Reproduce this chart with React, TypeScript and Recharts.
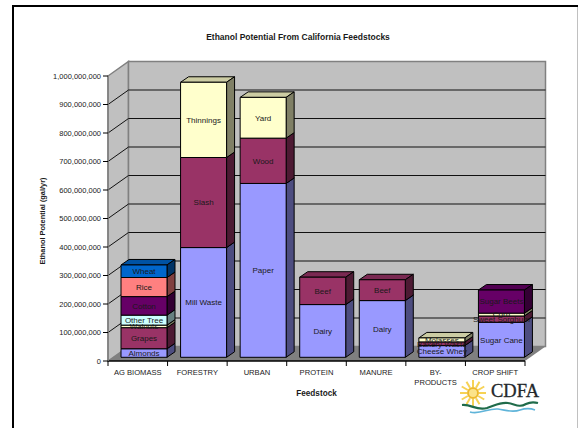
import React from 'react';
import { BarChart, Bar, XAxis, YAxis, CartesianGrid, LabelList } from 'recharts';

const categories = ['AG BIOMASS', 'FORESTRY', 'URBAN', 'PROTEIN', 'MANURE', 'BY-PRODUCTS', 'CROP SHIFT'];
const yTicks = [0, 100000000, 200000000, 300000000, 400000000, 500000000, 600000000, 700000000, 800000000, 900000000, 1000000000];

const almonds = [30000000, null, null, null, null, null, null];
const grapes = [74000000, null, null, null, null, null, null];
const walnuts = [9000000, null, null, null, null, null, null];
const otherTree = [35000000, null, null, null, null, null, null];
const cotton = [65000000, null, null, null, null, null, null];
const rice = [67000000, null, null, null, null, null, null];
const wheat = [44000000, null, null, null, null, null, null];
const millWaste = [null, 385000000, null, null, null, null, null];
const slash = [null, 316000000, null, null, null, null, null];
const thinnings = [null, 264000000, null, null, null, null, null];
const paper = [null, null, 610000000, null, null, null, null];
const wood = [null, null, 159000000, null, null, null, null];
const yard = [null, null, 143000000, null, null, null, null];
const dairy = [null, null, null, 185000000, 199000000, null, null];
const beef = [null, null, null, 96000000, 73000000, null, null];
const cheeseWhey = [null, null, null, null, null, 41000000, null];
const bakeryWaste = [null, null, null, null, null, 13000000, null];
const molasses = [null, null, null, null, null, 14000000, null];
const sugarCane = [null, null, null, null, null, null, 123000000];
const sweetSorghum = [null, null, null, null, null, null, 22000000];
const corn = [null, null, null, null, null, null, 10000000];
const sugarBeets = [null, null, null, null, null, null, 81000000];

const series = [
  { name: 'Almonds', values: almonds, color: '#9999FF' },
  { name: 'Grapes', values: grapes, color: '#993366' },
  { name: 'Walnuts', values: walnuts, color: '#FFFFCC' },
  { name: 'Other Tree', values: otherTree, color: '#CCFFFF' },
  { name: 'Cotton', values: cotton, color: '#660066' },
  { name: 'Rice', values: rice, color: '#FF8080' },
  { name: 'Wheat', values: wheat, color: '#0066CC' },
  { name: 'Mill Waste', values: millWaste, color: '#9999FF' },
  { name: 'Slash', values: slash, color: '#993366' },
  { name: 'Thinnings', values: thinnings, color: '#FFFFCC' },
  { name: 'Paper', values: paper, color: '#9999FF' },
  { name: 'Wood', values: wood, color: '#993366' },
  { name: 'Yard', values: yard, color: '#FFFFCC' },
  { name: 'Dairy', values: dairy, color: '#9999FF' },
  { name: 'Beef', values: beef, color: '#993366' },
  { name: 'Cheese Whey', values: cheeseWhey, color: '#9999FF' },
  { name: 'Bakery Waste', values: bakeryWaste, color: '#993366' },
  { name: 'Molasses', values: molasses, color: '#FFFFCC' },
  { name: 'Sugar Cane', values: sugarCane, color: '#9999FF' },
  { name: 'Sweet Sorghum', values: sweetSorghum, color: '#993366' },
  { name: 'Corn', values: corn, color: '#FFFFCC' },
  { name: 'Sugar Beets', values: sugarBeets, color: '#660066' },
];

const data = categories.map((category, i) => {
  const row: Record<string, any> = { category };
  series.forEach((s) => {
    row[s.name] = s.values[i];
  });
  return row;
});

const FONT = '"Liberation Sans", Arial, sans-serif';
const TEXT = '#1a1a1a';

// fake 3D: wall depth and the depth/offset of the bars on the floor
const WALL_DX = 20.5;
const WALL_DY = 14.5;
const BAR_DX = 8;
const BAR_DY = 5.5;
const BAR_OFF_X = 6;
const BAR_OFF_Y = 3.7;

function shade(hex: string, k: number) {
  const n = parseInt(hex.slice(1), 16);
  const c = (v: number) => Math.round(v * k);
  return `rgb(${c((n >> 16) & 255)},${c((n >> 8) & 255)},${c(n & 255)})`;
}

// walls + floor are drawn with the first grid line, so they sit under the rest
const gridLine = (props: any) => {
  const { x1, x2, y1, index, y, height } = props;
  const top = y;
  const bottom = y + height;
  const edge = y1 <= top + 0.5 || y1 >= bottom - 0.5;
  return (
    <g key={`grid-${index}`}>
      {index === 0 && (
        <g>
          <polygon
            points={`${x1},${top} ${x1 + WALL_DX},${top - WALL_DY} ${x1 + WALL_DX},${bottom - WALL_DY} ${x1},${bottom}`}
            fill="#C0C0C0"
            stroke="#808080"
            strokeWidth={1.5}
          />
          <rect
            x={x1 + WALL_DX}
            y={top - WALL_DY}
            width={x2 - x1}
            height={height}
            fill="#C0C0C0"
            stroke="#808080"
            strokeWidth={1.5}
          />
          <polygon
            points={`${x1},${bottom} ${x2},${bottom} ${x2 + WALL_DX},${bottom - WALL_DY} ${x1 + WALL_DX},${bottom - WALL_DY}`}
            fill="#808080"
          />
        </g>
      )}
      {!edge && (
        <polyline
          points={`${x1},${y1} ${x1 + WALL_DX},${y1 - WALL_DY} ${x2 + WALL_DX},${y1 - WALL_DY}`}
          fill="none"
          stroke="#111"
          strokeWidth={1}
        />
      )}
    </g>
  );
};

const Bar3D = (props: any) => {
  const { x, y, width, height, fill } = props;
  if (!height) return null;
  const l = x + BAR_OFF_X;
  const t = y - BAR_OFF_Y;
  const r = l + width;
  const b = t + height;
  return (
    <g stroke="#000" strokeWidth={1} strokeLinejoin="round">
      <polygon
        points={`${l},${t} ${l + BAR_DX},${t - BAR_DY} ${r + BAR_DX},${t - BAR_DY} ${r},${t}`}
        fill={shade(fill, 0.8)}
      />
      <polygon
        points={`${r},${t} ${r + BAR_DX},${t - BAR_DY} ${r + BAR_DX},${b - BAR_DY} ${r},${b}`}
        fill={shade(fill, 0.5)}
      />
      <rect x={l} y={t} width={width} height={height} fill={fill} />
    </g>
  );
};

const segmentLabel = (name: string) => (props: any) => {
  const { x, y, width, height, value } = props;
  if (value == null || !height) return null;
  return (
    <text
      x={x + BAR_OFF_X + width / 2}
      y={y - BAR_OFF_Y + height / 2 + 2.8}
      textAnchor="middle"
      fontFamily={FONT}
      fontSize={8}
      fill={TEXT}
    >
      {name}
    </text>
  );
};

// category ticks sit on the band edges, as in the original
const CategoryTick = (props: any) => {
  const { x, y, payload, index } = props;
  const band = 417 / categories.length;
  const left = x - band / 2;
  const words = String(payload.value) === 'BY-PRODUCTS' ? ['BY-', 'PRODUCTS'] : [String(payload.value)];
  return (
    <g>
      <line x1={left} x2={left} y1={361} y2={366} stroke="#000" strokeWidth={1} />
      {index === categories.length - 1 && (
        <line x1={left + band} x2={left + band} y1={361} y2={366} stroke="#000" strokeWidth={1} />
      )}
      {words.map((w, i) => (
        <text key={w} x={x} y={y + 6 + i * 10} textAnchor="middle" fontFamily={FONT} fontSize={7.6} fill={TEXT}>
          {w}
        </text>
      ))}
    </g>
  );
};

const sunRays = [0, 30, 60, 90, 120, 150, 180, 210, 240, 270, 300, 330];

const Logo = () => (
  <g>
    {sunRays.map((a) => {
      const rad = (a * Math.PI) / 180;
      return (
        <line
          key={a}
          x1={473 + Math.cos(rad) * 6}
          y1={393 + Math.sin(rad) * 6}
          x2={473 + Math.cos(rad) * 13}
          y2={393 + Math.sin(rad) * 13}
          stroke="#F6D255"
          strokeWidth={2}
        />
      );
    })}
    <circle cx={473} cy={393} r={5} fill="#FBE38A" stroke="#EDB92E" strokeWidth={2} />
    <text x={491} y={397} fontFamily='"Liberation Serif", serif' fontSize={18} textLength={48} lengthAdjust="spacingAndGlyphs" fill="#23282b" stroke="#23282b" strokeWidth={0.3}>
      CDFA
    </text>
    <path d="M462 405 C472 404 476 411 487 408 C496 405 500 402 508 403 C515 404 519 408 526 404 C530 402 534 402 538 403" fill="none" stroke="#1F6B4A" strokeWidth={2.2} />
    <path d="M470 412 C480 415 488 408 498 409 C506 410 512 413 520 410 C526 408 530 408 535 410" fill="none" stroke="#5FB4D9" strokeWidth={1.6} />
  </g>
);

export default function App() {
  return (
    <div style={{ position: 'absolute', left: 0, top: 0, width: 578, height: 428, background: '#fff', overflow: 'hidden' }}>
      <BarChart
        width={578}
        height={428}
        data={data}
        stackOffset="none"
        barSize={46}
        margin={{ top: 76, right: 53, bottom: 0, left: 0 }}
      >
        <CartesianGrid horizontal={gridLine} vertical={false} />
        <XAxis
          dataKey="category"
          height={67}
          axisLine={{ stroke: '#000', strokeWidth: 1.5 }}
          tickLine={false}
          interval={0}
          tick={<CategoryTick />}
          label={{ value: 'Feedstock', position: 'insideBottom', offset: 32, fontFamily: FONT, fontSize: 8.2, fontWeight: 'bold', fill: TEXT }}
        />
        <YAxis
          width={108}
          domain={[0, 1000000000]}
          ticks={yTicks}
          interval={0}
          tickFormatter={(v: number) => v.toLocaleString('en-US')}
          axisLine={{ stroke: '#808080', strokeWidth: 1.5 }}
          tickLine={{ stroke: '#000' }}
          tickSize={5}
          tickMargin={2}
          tick={{ fontFamily: FONT, fontSize: 7.5, fill: TEXT }}
        />
        {series.map((s) => (
          <Bar key={s.name} dataKey={s.name} stackId="a" fill={s.color} shape={<Bar3D />} isAnimationActive={false}>
            <LabelList dataKey={s.name} content={segmentLabel(s.name)} />
          </Bar>
        ))}
      </BarChart>
      <svg width={578} height={428} style={{ position: 'absolute', left: 0, top: 0, pointerEvents: 'none' }}>
        <line x1={13} y1={6} x2={13} y2={428} stroke="#000" strokeWidth={2} />
        <line x1={12} y1={6} x2={578} y2={6} stroke="#000" strokeWidth={2} />
        <line x1={577.5} y1={7} x2={577.5} y2={428} stroke="#C0C0C0" strokeWidth={1} />
        <text x={298} y={40} textAnchor="middle" fontFamily={FONT} fontSize={8.5} fontWeight="bold" fill={TEXT}>
          Ethanol Potential From California Feedstocks
        </text>
        <text
          transform="translate(45,221) rotate(-90)"
          textAnchor="middle"
          fontFamily={FONT}
          fontSize={7.4}
          fontWeight="bold"
          fill={TEXT}
        >
          Ethanol Potential (gal/yr)
        </text>
        <Logo />
      </svg>
    </div>
  );
}
